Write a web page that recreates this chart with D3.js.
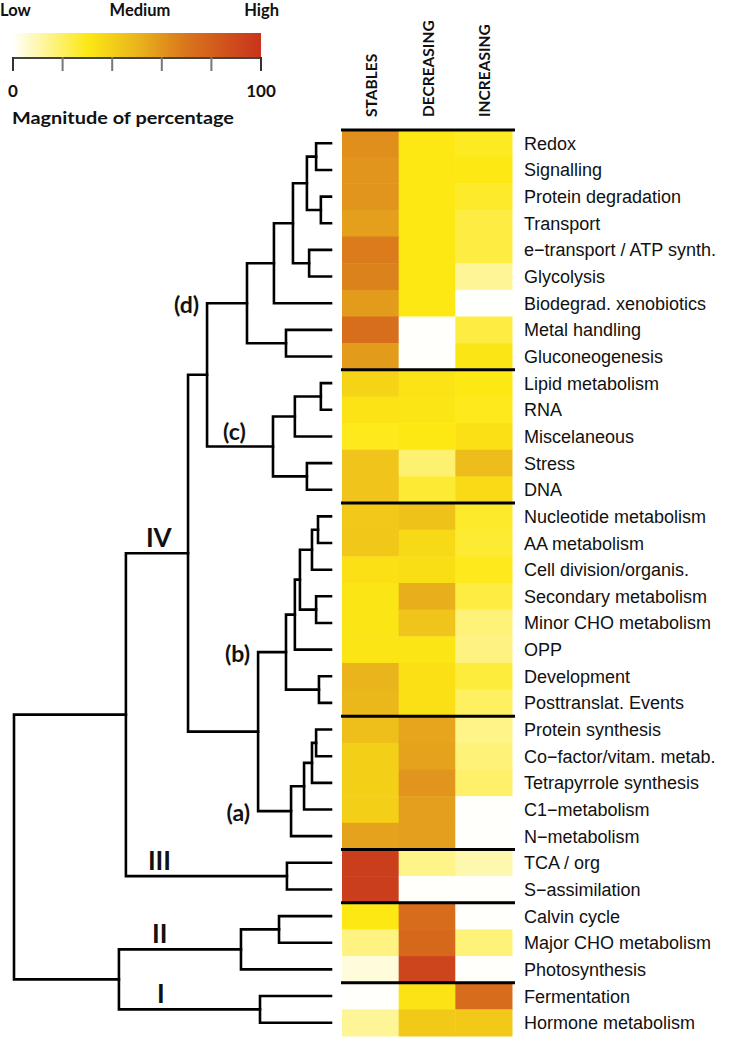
<!DOCTYPE html>
<html><head><meta charset="utf-8">
<script src="https://cdn.jsdelivr.net/npm/d3@7"></script>
<style>body{margin:0;background:#fff}svg{display:block}</style>
</head><body>
<svg id="c" width="740" height="1039"></svg>
<script>
// ---------- data ----------
const categories = ["Redox","Signalling","Protein degradation","Transport","e\u2212transport / ATP synth.","Glycolysis","Biodegrad. xenobiotics","Metal handling","Gluconeogenesis",
"Lipid metabolism","RNA","Miscelaneous","Stress","DNA",
"Nucleotide metabolism","AA metabolism","Cell division/organis.","Secondary metabolism","Minor CHO metabolism","OPP","Development","Posttranslat. Events",
"Protein synthesis","Co\u2212factor/vitam. metab.","Tetrapyrrole synthesis","C1\u2212metabolism","N\u2212metabolism",
"TCA / org","S\u2212assimilation","Calvin cycle","Major CHO metabolism","Photosynthesis","Fermentation","Hormone metabolism"];
const columns = ["STABLES","DECREASING","INCREASING"];
const stables    = [62,60,60,57,68,66,58,73,58, 38,32,29,44,44, 42,43,33,31,31,31,50,49, 46,40,40,40,56, 95,95, 30,16,4, 0,13];
const decreasing = [30,30,30,30,30,30,30,0,0, 32,31,30,18,26, 45,36,34,52,44,31,33,33, 55,56,60,57,57, 15,0, 74,76,92, 32,42];
const increasing = [28,30,27,24,24,13,0,24,31, 30,29,33,47,35, 27,26,29,24,17,16,25,20, 15,17,19,0,0, 10,0, 0,17,0, 74,42];
const groupBreaks = [0,9,14,22,27,29,32];
// hclust-style merges: negative = leaf (1-based), positive = earlier merge (1-based); third = height
const merges = [
 [-1,-2,0.047],[-3,-4,0.032],[1,2,0.076],[-5,-6,0.069],[3,4,0.120],[5,-7,0.180],[-8,-9,0.142],[6,7,0.265],
 [-10,-11,0.032],[9,-12,0.114],[-13,-14,0.076],[10,11,0.183],[8,12,0.391],
 [-15,-16,0.041],[14,-17,0.060],[-18,-19,0.047],[15,16,0.098],[17,-20,0.114],[-21,-22,0.038],[18,19,0.142],
 [-23,-24,0.047],[21,-25,0.060],[22,-26,0.085],[23,-27,0.126],[20,24,0.230],[13,25,0.451],
 [-28,-29,0.139],[26,27,0.647],[-30,-31,0.164],[29,-32,0.284],[-33,-34,0.224],[30,31,0.669],[28,32,1.0]];
// cluster labels: which merge they name; "side" = left of parent line, otherwise above the branch
const clusterLabels = [
 {merge:8,text:"(d)",side:true},{merge:12,text:"(c)",side:false,dx:16},{merge:26,text:"IV",side:false,dx:20},
 {merge:20,text:"(b)",side:true},{merge:24,text:"(a)",side:true},{merge:27,text:"III",side:false,dx:22},
 {merge:30,text:"II",side:false,dx:33},{merge:31,text:"I",side:false,dx:38}];
const legendStops = [0,30,50,70,100];
const legendColors = ["#fffffb","#fde814","#eab51c","#d9751c","#c8331c"];
const legendTicks = [0,20,40,60,80,100];
const legendTickLabels = ["0","100"];

// ---------- drawing ----------
const svg = d3.select("#c");
const FONT_B = "Lato,'Open Sans',sans-serif";
const color = d3.scaleLinear().domain(legendStops).range(legendColors);
const y = d3.scaleBand().domain(d3.range(categories.length)).range([130,1036]);
const x = d3.scaleBand().domain(columns).range([342,512]);
const hx = d3.scaleLinear().domain([0,1]).range([331,14]);

const series = [stables, decreasing, increasing];
const cells = [];
categories.forEach((c,i)=>columns.forEach((col,j)=>cells.push({i,col,v:series[j][i]})));
svg.append("g").selectAll("rect").data(cells).join("rect")
 .attr("x",d=>x(d.col)).attr("y",d=>y(d.i))
 .attr("width",x.bandwidth()+0.5).attr("height",y.bandwidth()+0.5)
 .attr("fill",d=>color(d.v));

svg.append("g").selectAll("line").data(groupBreaks).join("line")
 .attr("x1",341).attr("x2",515)
 .attr("y1",d=>y(d)).attr("y2",d=>y(d))
 .attr("stroke","#000").attr("stroke-width",3);

svg.append("g").selectAll("text").data(categories).join("text")
 .attr("x",524).attr("y",(d,i)=>y(i)+y.bandwidth()/2)
 .attr("dy","0.36em").attr("font-family","'Liberation Sans',Arial,sans-serif")
 .attr("font-size",18).attr("fill","#111").text(d=>d);

svg.append("g").selectAll("text").data(columns).join("text")
 .attr("transform",d=>`translate(${x(d)+x.bandwidth()/2+1},117) rotate(-90)`)
 .attr("dy","0.36em").attr("font-family",FONT_B).attr("font-weight","bold")
 .attr("font-size",15.5).attr("fill","#111").text(d=>d);

// dendrogram
const nodes = [];
const parentOf = {};
merges.forEach(([a,b],k)=>{ if(a>0) parentOf[a]=k+1; if(b>0) parentOf[b]=k+1; });
function pos(ref){ if(ref<0){const i=-ref-1;return {x:hx(0),y:y(i)+y.bandwidth()/2};} return nodes[ref-1]; }
const dg = svg.append("g").attr("fill","none").attr("stroke","#000").attr("stroke-width",2.6).attr("stroke-linecap","square");
merges.forEach(([a,b,h])=>{
  const pa=pos(a), pb=pos(b), nx=hx(h);
  nodes.push({x:nx,y:(pa.y+pb.y)/2});
  dg.append("path").attr("d",`M${pa.x},${pa.y}H${nx}V${pb.y}H${pb.x}`);
});
svg.append("g").selectAll("text").data(clusterLabels).join("text")
 .attr("x",d=>{const p=nodes[parentOf[d.merge]-1];return d.side? p.x-8 : p.x+d.dx;})
 .attr("y",d=>{const n=nodes[d.merge-1];return d.side? n.y+2 : n.y-6;})
 .attr("text-anchor",d=>d.side?"end":"start")
 .attr("dy",d=>d.side?"0.35em":"0")
 .attr("font-family",FONT_B).attr("font-weight","bold")
 .attr("font-size",d=>d.text.startsWith("(")?23:26).attr("fill","#111").text(d=>d.text);

// legend
const lx = d3.scaleLinear().domain([0,100]).range([13,261]);
const grad = svg.append("defs").append("linearGradient").attr("id","g1");
legendStops.forEach((s,i)=>grad.append("stop").attr("offset",s+"%").attr("stop-color",legendColors[i]));
svg.append("rect").attr("x",lx(0)).attr("y",33).attr("width",lx(100)-lx(0)).attr("height",24).attr("fill","url(#g1)");
svg.append("line").attr("x1",lx(0)).attr("x2",lx(100)).attr("y1",58).attr("y2",58).attr("stroke","#444").attr("stroke-width",2);
svg.append("g").selectAll("line").data(legendTicks).join("line")
 .attr("x1",d=>lx(d)).attr("x2",d=>lx(d)).attr("y1",57).attr("y2",71)
 .attr("stroke",(d,i)=>(i===0||i===legendTicks.length-1)?"#333":"#777").attr("stroke-width",2);
svg.append("g").selectAll("text").data(legendTickLabels).join("text")
 .attr("x",(d,i)=>lx(+d)).attr("y",97).attr("text-anchor","middle")
 .attr("font-family",FONT_B).attr("font-weight","bold").attr("font-size",17).attr("fill","#111").text(d=>d);
[["Low",0,"start"],["Medium",140,"middle"],["High",279,"end"]].forEach(([t,xx,a])=>
 svg.append("text").attr("x",xx).attr("y",16).attr("text-anchor",a)
  .attr("font-family",FONT_B).attr("font-weight","bold").attr("font-size",16.5).attr("fill","#111").text(t));
svg.append("text").attr("x",12).attr("y",124).attr("font-family",FONT_B)
 .attr("font-weight","bold").attr("font-size",17).attr("fill","#111")
 .attr("textLength",222).attr("lengthAdjust","spacingAndGlyphs").text("Magnitude of percentage");
</script>
</body></html>
